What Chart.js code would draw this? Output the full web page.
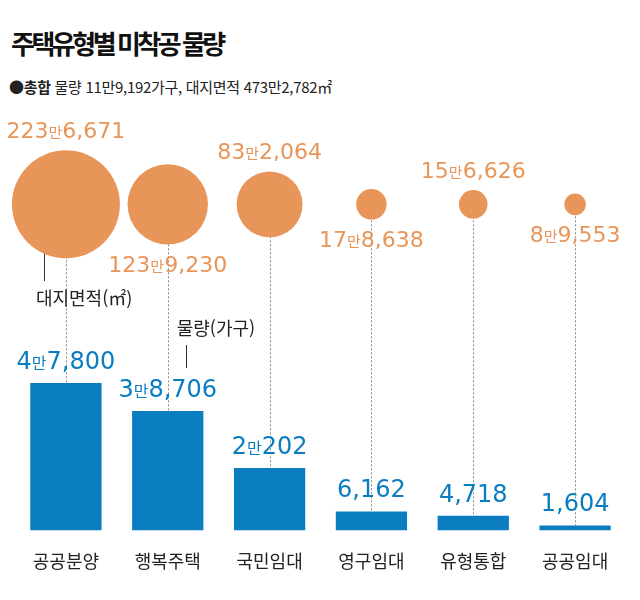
<!DOCTYPE html>
<html lang="ko">
<head>
<meta charset="utf-8">
<script src="https://cdn.jsdelivr.net/npm/chart.js@4.4.1/dist/chart.umd.min.js"></script>
<style>
    body { margin: 0; background: #fff; }
    #wrap { position: relative; width: 640px; height: 600px; font-family: "Noto Sans CJK KR", sans-serif; }
    #title { position: absolute; left: 11px; top: 30px; font-size: 26px; line-height: 1; font-weight: 700; color: #111; letter-spacing: -3.5px; }
    #sub { position: absolute; left: 9px; top: 79px; font-size: 15px; line-height: 1; color: #222; letter-spacing: -0.3px; }
    #sub b { font-weight: 700; }
    canvas { position: absolute; left: 0; top: 0; }
</style>
</head>
<body>
<div id="wrap">
    <div id="title">주택유형별 미착공 물량</div>
    <div id="sub"><b>●총합</b> 물량 11만9,192가구, 대지면적 473만2,782㎡</div>
    <canvas id="chart" width="640" height="600"></canvas>
</div>
<script>
const categories = ['공공분양', '행복주택', '국민임대', '영구임대', '유형통합', '공공임대'];
const households = [47800, 38706, 20202, 6162, 4718, 1604];   // 물량(가구)
const landArea = [2236671, 1239230, 832064, 178638, 156626, 89553]; // 대지면적(㎡)
const barAxisMax = 139500;
const bubbleRow = 1;
const bubbleAxisMax = 1.32;

const blue = '#0A7DC1';
const orange = '#E8955A';
const numFont = '"DejaVu Sans", sans-serif';
const krFont = '"Noto Sans CJK KR", sans-serif';

// 최대 원 반지름 54px, 면적에 비례
const maxR = 54;
const bubbleData = categories.map((c, i) => ({
    x: c,
    y: bubbleRow,
    r: maxR * Math.sqrt(landArea[i] / Math.max(...landArea))
}));

function splitMan(v) {
    // 47800 -> ['4', '만', '7,800']
    if (v < 10000) return [v.toLocaleString('en-US')];
    const man = Math.floor(v / 10000);
    const rest = v % 10000;
    return [String(man), '만', rest.toLocaleString('en-US')];
}

function drawMixed(ctx, parts, cx, baseY, big, small, color) {
    ctx.save();
    ctx.fillStyle = color;
    ctx.textBaseline = 'alphabetic';
    ctx.textAlign = 'left';
    const fonts = parts.map(p => p === '만' ? small + 'px ' + krFont : big + 'px ' + numFont);
    let widths = parts.map((p, i) => { ctx.font = fonts[i]; return ctx.measureText(p).width; });
    let total = widths.reduce((a, b) => a + b, 0);
    let x = cx - total / 2;
    parts.forEach((p, i) => {
        ctx.font = fonts[i];
        ctx.fillText(p, x, baseY);
        x += widths[i];
    });
    ctx.restore();
}

const guideLines = {
    id: 'guideLines',
    beforeDatasetsDraw(chart) {
        const ctx = chart.ctx;
        const bubbles = chart.getDatasetMeta(0).data;
        const bars = chart.getDatasetMeta(1).data;
        ctx.save();
        ctx.strokeStyle = '#8a8a8a';
        ctx.lineWidth = 1;
        ctx.setLineDash([2, 2]);
        bars.forEach((bar, i) => {
            const x = Math.round(bar.x) + 0.5;
            ctx.beginPath();
            ctx.moveTo(x, bubbles[i].y);
            ctx.lineTo(x, bar.y);
            ctx.stroke();
        });
        ctx.setLineDash([]);
        ctx.strokeStyle = '#333';
        // 대지면적 안내선
        const b0 = bubbles[0];
        const lx = Math.round(b0.x - 22) + 0.5;
        ctx.beginPath();
        ctx.moveTo(lx, b0.y);
        ctx.lineTo(lx, 281);
        ctx.stroke();
        // 물량 안내선
        const bar1 = bars[1];
        const mx = Math.round(bar1.x + 18) + 0.5;
        ctx.beginPath();
        ctx.moveTo(mx, 345);
        ctx.lineTo(mx, 368);
        ctx.stroke();
        ctx.restore();
    },
    afterDatasetsDraw(chart) {
        const ctx = chart.ctx;
        const bubbles = chart.getDatasetMeta(0).data;
        const bars = chart.getDatasetMeta(1).data;
        bubbles.forEach((b, i) => {
            const r = bubbleData[i].r;
            const baseY = i % 2 === 0 ? b.y - r - 12 : b.y + r + 27;
            drawMixed(ctx, splitMan(landArea[i]), b.x, baseY, 22, 15, orange);
        });
        bars.forEach((bar, i) => {
            drawMixed(ctx, splitMan(households[i]), bar.x, bar.y - 14, 24, 16, blue);
        });
        ctx.save();
        ctx.fillStyle = '#222';
        ctx.font = '18px ' + krFont;
        ctx.textBaseline = 'middle';
        ctx.textAlign = 'left';
        ctx.fillText('대지면적(㎡)', bubbles[0].x - 30, 298);
        ctx.fillText('물량(가구)', bars[1].x + 9, 328);
        ctx.restore();
    }
};

const chart = new Chart(document.getElementById('chart'), {
    data: {
        labels: categories,
        datasets: [{
            type: 'bubble',
            data: bubbleData,
            backgroundColor: orange,
            borderWidth: 0,
            hoverBorderWidth: 0,
            yAxisID: 'yb'
        }, {
            type: 'bar',
            data: households,
            backgroundColor: blue,
            borderWidth: 0,
            categoryPercentage: 1,
            barPercentage: 0.7,
            yAxisID: 'y'
        }]
    },
    options: {
        responsive: false,
        animation: false,
        events: [],
        layout: { autoPadding: false, padding: { top: 100, left: 15, right: 14, bottom: 8 } },
        plugins: {
            legend: { display: false },
            tooltip: { enabled: false }
        },
        scales: {
            x: {
                type: 'category',
                offset: true,
                grid: { display: false, drawTicks: false },
                border: { display: false },
                ticks: {
                    color: '#222',
                    padding: 20,
                    font: { family: krFont, size: 18 }
                }
            },
            y: {
                min: 0,
                max: barAxisMax,
                display: false
            },
            yb: {
                min: 0,
                max: bubbleAxisMax,
                display: false
            }
        }
    },
    plugins: [guideLines]
});
</script>
</body>
</html>
